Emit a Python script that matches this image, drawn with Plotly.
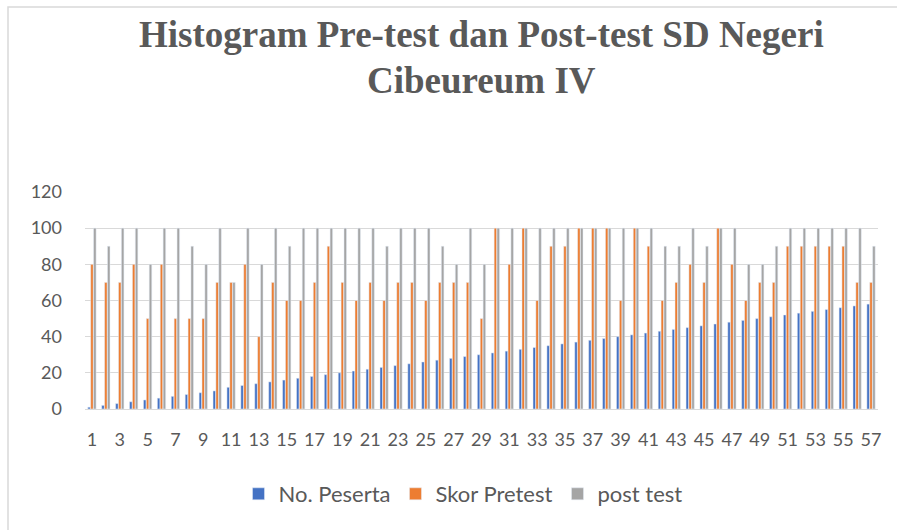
import plotly.graph_objects as go

categories = [str(i) for i in range(1, 58)]
no_peserta = [1, 2, 3, 4, 5, 6, 7, 8, 9, 10,
              12, 13, 14, 15, 16, 17, 18, 19, 20, 21,
              22, 23, 24, 25, 26, 27, 28, 29, 30, 31,
              32, 33, 34, 35, 36, 37, 38, 39, 40, 41,
              42, 43, 44, 45, 46, 47, 48, 49, 50, 51,
              52, 53, 54, 55, 56, 57, 58]
skor_pretest = [80, 70, 70, 80, 50, 80, 50, 50, 50, 70,
                70, 80, 40, 70, 60, 60, 70, 90, 70, 60,
                70, 60, 70, 70, 60, 70, 70, 70, 50, 100,
                80, 100, 60, 90, 90, 100, 100, 100, 60, 100,
                90, 60, 70, 80, 70, 100, 80, 60, 70, 70,
                90, 90, 90, 90, 90, 70, 70]
post_test = [100, 90, 100, 100, 80, 100, 100, 90, 80, 100,
             70, 100, 80, 100, 90, 100, 100, 100, 100, 100,
             100, 90, 100, 100, 100, 90, 80, 100, 80, 100,
             100, 100, 100, 100, 100, 100, 100, 100, 100, 100,
             100, 90, 90, 100, 90, 100, 100, 80, 80, 90,
             100, 100, 100, 100, 100, 100, 90]
tick_labels = [str(i) for i in range(1, 58, 2)]
y_ticks = [0, 20, 40, 60, 80, 100, 120]
title_lines = ["Histogram Pre-test dan Post-test SD Negeri", "Cibeureum IV"]

W, H = 897, 530
L, R, T, B = 85, 19, 192, 121
pw = W - L - R
ph = H - T - B


def px_x(x):
    return (x - L) / pw


def px_y(y):
    return (H - B - y) / ph


font_main = "Lato, 'Open Sans', sans-serif"
gray_text = "#595959"
title_font = dict(family="'Liberation Serif', 'Times New Roman', serif", size=37,
                  color=gray_text, weight="bold")

fig = go.Figure()
fig.add_trace(go.Bar(x=categories, y=no_peserta, name="No. Peserta", marker_color="#4472C4"))
fig.add_trace(go.Bar(x=categories, y=skor_pretest, name="Skor Pretest", marker_color="#ED7D31"))
fig.add_trace(go.Bar(x=categories, y=post_test, name="post test", marker_color="#A5A5A5"))

fig.update_layout(
    width=W, height=H,
    margin=dict(l=L, r=R, t=T, b=B, pad=0),
    paper_bgcolor="white", plot_bgcolor="white",
    barmode="group", bargap=0.38, bargroupgap=0.12,
    font=dict(family=font_main, size=18, color=gray_text),
    legend=dict(
        orientation="h", x=px_x(463), xanchor="center",
        y=px_y(494), yanchor="middle",
        font=dict(family=font_main, size=22, color=gray_text),
        itemclick=False, traceorder="normal",
    ),
    xaxis=dict(
        type="category", categoryorder="array", categoryarray=categories,
        tickmode="array", tickvals=tick_labels, ticktext=tick_labels,
        showgrid=False, showline=True, linecolor="#D9D9D9", linewidth=1,
        ticks="", ticklabelstandoff=14,
        tickfont=dict(family=font_main, size=18, color=gray_text),
    ),
    yaxis=dict(
        range=[0, 120], tickmode="array", tickvals=y_ticks,
        showgrid=True, gridcolor="#D9D9D9", gridwidth=1,
        zeroline=False, showline=False, ticks="", ticklabelstandoff=22,
        tickfont=dict(family=font_main, size=18, color=gray_text),
    ),
    annotations=[
        dict(text=title_lines[0], xref="paper", yref="paper", x=px_x(481), y=px_y(35),
             xanchor="center", yanchor="middle", showarrow=False, font=title_font),
        dict(text=title_lines[1], xref="paper", yref="paper", x=px_x(481), y=px_y(80),
             xanchor="center", yanchor="middle", showarrow=False, font=title_font),
    ],
    shapes=[dict(
        type="rect", xref="paper", yref="paper",
        x0=px_x(8), x1=px_x(905),
        y0=px_y(540), y1=px_y(7),
        line=dict(color="#D9D9D9", width=1.5), fillcolor="rgba(0,0,0,0)",
        layer="below",
    )],
)

fig.write_html("out.html", config={"displayModeBar": False},
               post_script="document.body.style.margin='0';")
